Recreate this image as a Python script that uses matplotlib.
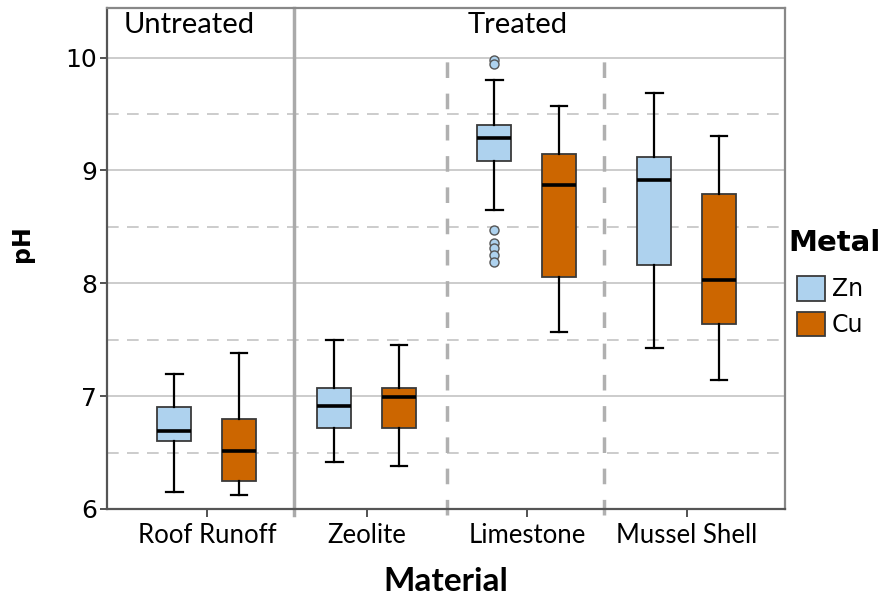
import matplotlib
matplotlib.use("Agg")
import matplotlib.pyplot as plt
from matplotlib.patches import Patch

# pH box plot summaries by material and metal
materials = ["Roof Runoff", "Zeolite", "Limestone", "Mussel Shell"]
metals = ["Zn", "Cu"]

zn_whislo = [6.15, 6.42, 8.65, 7.43]
zn_q1 = [6.60, 6.72, 9.08, 8.16]
zn_med = [6.69, 6.91, 9.29, 8.92]
zn_q3 = [6.90, 7.07, 9.40, 9.12]
zn_whishi = [7.20, 7.50, 9.80, 9.69]
zn_fliers = [[], [], [9.98, 9.94, 8.47, 8.36, 8.31, 8.25, 8.19], []]

cu_whislo = [6.12, 6.38, 7.57, 7.14]
cu_q1 = [6.25, 6.72, 8.06, 7.64]
cu_med = [6.51, 6.99, 8.87, 8.03]
cu_q3 = [6.80, 7.07, 9.15, 8.79]
cu_whishi = [7.38, 7.45, 9.57, 9.31]
cu_fliers = [[], [], [], []]

groups = ["Untreated", "Treated"]

zn_color = "#aed2ee"
cu_color = "#cc6600"

plt.rcParams["font.family"] = "DejaVu Sans"

fig = plt.figure(figsize=(8.82, 5.94), dpi=100)
ax = fig.add_axes([107 / 882, 1 - 509 / 594, 678 / 882, 501 / 594])

ymin, ymax = 6, 10.44
ax.set_xlim(-0.625, 3.6125)
ax.set_ylim(ymin, ymax)

# grid: solid at whole units, dashed at halves
for v in [7, 8, 9, 10]:
    ax.axhline(v, color="#c4c4c4", lw=1.2, zorder=0)
for v in [6.5, 7.5, 8.5, 9.5]:
    ax.axhline(v, color="#c4c4c4", lw=1.2, dashes=(7, 5), zorder=0)

# group separators
ax.plot([0.544, 0.544], [5.95, ymax], color="#aaaaaa", lw=2.5, clip_on=False, zorder=1)
for xs in [1.5, 2.48]:
    ax.plot([xs, xs], [5.95, 10.0], color="#b0b0b0", lw=2.5, dashes=(4.5, 4.5),
            clip_on=False, zorder=1)


def make_stats(lo, q1, med, q3, hi, fl):
    return [dict(whislo=a, q1=b, med=c, q3=d, whishi=e, fliers=f)
            for a, b, c, d, e, f in zip(lo, q1, med, q3, hi, fl)]


zn_stats = make_stats(zn_whislo, zn_q1, zn_med, zn_q3, zn_whishi, zn_fliers)
cu_stats = make_stats(cu_whislo, cu_q1, cu_med, cu_q3, cu_whishi, cu_fliers)

for stats, offset, color in [(zn_stats, -0.205, zn_color), (cu_stats, 0.2, cu_color)]:
    pos = [i + offset for i in range(len(materials))]
    ax.bxp(stats, positions=pos, widths=0.2125, patch_artist=True, manage_ticks=False,
           capwidths=0.105,
           boxprops=dict(facecolor=color, edgecolor="#3a3a3a", lw=1.3),
           medianprops=dict(color="black", lw=2.6),
           whiskerprops=dict(color="black", lw=1.6),
           capprops=dict(color="black", lw=1.6),
           flierprops=dict(marker="o", markerfacecolor=color, markeredgecolor="#555555",
                           markersize=6.5, markeredgewidth=1.0),
           zorder=3)

# group headers
ax.text(-0.11, 10.29, groups[0], ha="center", va="center", fontsize=21, family="Lato")
ax.text(1.94, 10.29, groups[1], ha="center", va="center", fontsize=21, family="Lato")

ax.set_xticks(range(len(materials)))
ax.set_xticklabels(materials, family="Lato", fontsize=18.5)
ax.set_yticks([6, 7, 8, 9, 10])
ax.set_yticklabels(["6", "7", "8", "9", "10"], fontsize=18)
ax.tick_params(axis="x", length=6, width=1.3, color="#444444", pad=4)
ax.tick_params(axis="y", length=5, width=1.3, color="#444444", pad=2)

for side in ["left", "bottom"]:
    ax.spines[side].set_color("#555555")
    ax.spines[side].set_linewidth(1.6)
for side in ["top", "right"]:
    ax.spines[side].set_color("#888888")
    ax.spines[side].set_linewidth(1.6)

ax.set_xlabel("Material", family="Lato", fontweight="bold", fontsize=24)
ax.xaxis.set_label_coords(0.5, -0.115, transform=ax.transAxes)
ax.set_ylabel("pH", fontweight="bold", fontsize=17)
ax.yaxis.set_label_coords(-0.107, 0.53)

fig.text(788 / 882, 1 - 243 / 594, "Metal", fontweight="bold", fontsize=21, va="center")
handles = [Patch(facecolor=zn_color, edgecolor="#3a3a3a", lw=1.3),
           Patch(facecolor=cu_color, edgecolor="#3a3a3a", lw=1.3)]
leg = fig.legend(handles, metals, loc="upper left", bbox_to_anchor=(795 / 882, 1 - 274 / 594),
                 frameon=False, fontsize=17,
                 handlelength=1.15, handleheight=1.2, handletextpad=0.3,
                 labelspacing=0.45, borderaxespad=0, borderpad=0.1)

fig.savefig("out.png", dpi=100)
